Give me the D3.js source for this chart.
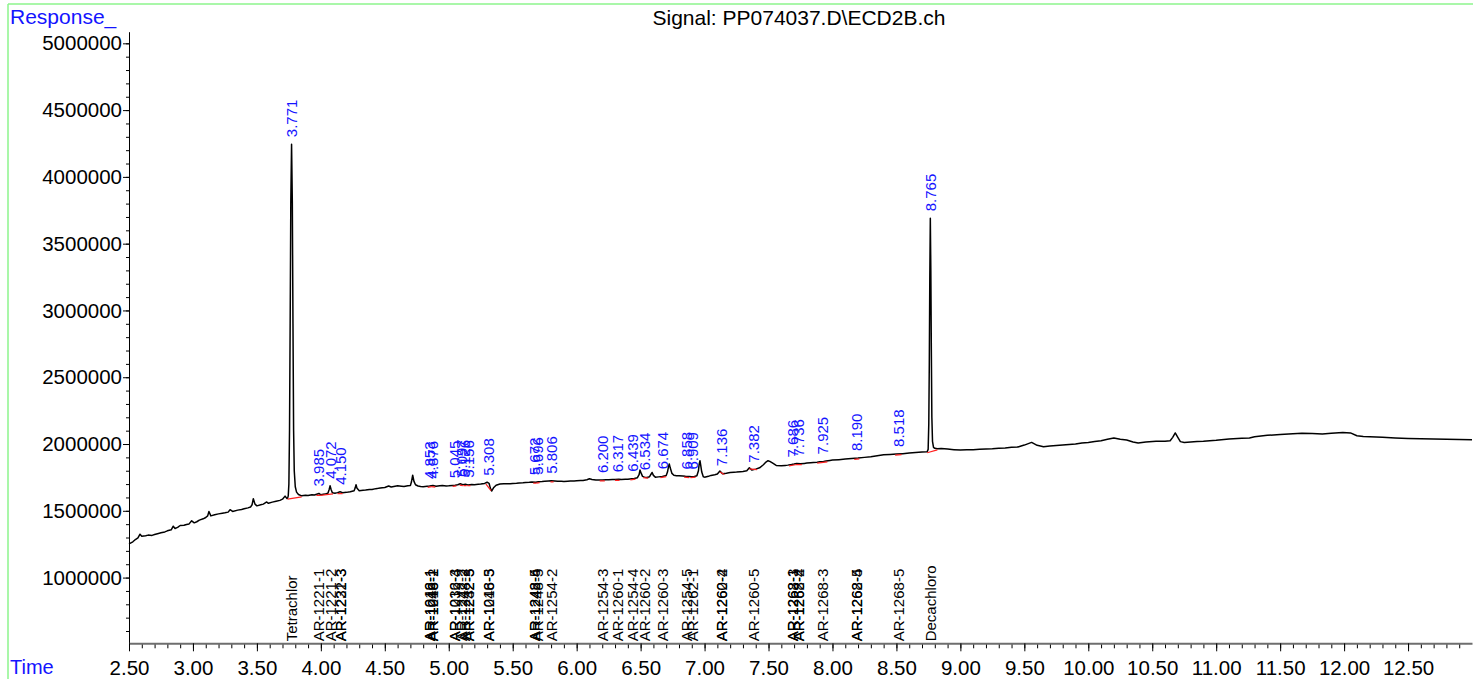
<!DOCTYPE html>
<html>
<head>
<meta charset="utf-8">
<script src="https://cdn.jsdelivr.net/npm/d3@7"></script>
<style>
  body { margin: 0; background: #fff; }
  svg { display: block; font-family: "Liberation Sans", Arial, sans-serif; }
</style>
</head>
<body>
<div id="chart"></div>
<script>
// chromatogram trace, [time (min), response]
var trace = [
  [2.50,1252000],[2.53,1268000],[2.55,1285000],[2.57,1298000],[2.586,1325000],[2.60,1310000],[2.63,1314000],[2.65,1318000],
  [2.68,1316000],[2.70,1322000],[2.73,1330000],[2.75,1335000],[2.78,1342000],[2.80,1350000],[2.83,1358000],[2.846,1385000],
  [2.86,1368000],[2.88,1376000],[2.90,1390000],[2.93,1392000],[2.95,1398000],[2.97,1402000],[2.99,1425000],[3.01,1410000],
  [3.03,1418000],[3.05,1430000],[3.08,1440000],[3.10,1450000],[3.115,1462000],[3.125,1495000],[3.14,1462000],[3.17,1470000],
  [3.20,1477000],[3.23,1482000],[3.25,1485000],[3.275,1490000],[3.29,1508000],[3.31,1495000],[3.35,1505000],[3.38,1510000],
  [3.40,1515000],[3.43,1522000],[3.45,1528000],[3.462,1545000],[3.472,1590000],[3.485,1550000],[3.50,1537000],[3.53,1545000],
  [3.55,1550000],[3.577,1566000],[3.59,1556000],[3.62,1565000],[3.65,1572000],[3.68,1578000],[3.70,1587000],[3.72,1610000],
  [3.735,1592000],[3.740,1595000],[3.745,1612000],[3.750,1700000],[3.755,2100000],[3.760,2900000],[3.765,3800000],
  [3.771,4245000],[3.777,3800000],[3.782,2900000],[3.787,2100000],[3.792,1800000],[3.800,1680000],[3.810,1640000],
  [3.825,1622000],[3.850,1612000],[3.88,1616000],[3.90,1614000],[3.93,1620000],[3.95,1618000],[3.985,1630000],[4.00,1620000],
  [4.03,1625000],[4.055,1632000],[4.065,1660000],[4.072,1687000],[4.08,1660000],[4.09,1635000],[4.11,1632000],[4.13,1636000],
  [4.15,1642000],[4.17,1636000],[4.20,1638000],[4.23,1642000],[4.26,1650000],[4.268,1670000],[4.275,1695000],[4.283,1668000],
  [4.30,1650000],[4.33,1654000],[4.35,1655000],[4.38,1660000],[4.40,1660000],[4.43,1666000],[4.45,1668000],[4.48,1672000],
  [4.50,1675000],[4.53,1686000],[4.55,1678000],[4.58,1684000],[4.60,1687000],[4.63,1684000],[4.65,1682000],[4.68,1688000],
  [4.70,1690000],[4.708,1715000],[4.718,1767000],[4.728,1720000],[4.74,1695000],[4.76,1686000],[4.78,1682000],[4.80,1680000],
  [4.83,1683000],[4.85,1685000],[4.876,1690000],[4.90,1684000],[4.93,1688000],[4.95,1690000],[4.98,1686000],[5.00,1687000],
  [5.03,1690000],[5.05,1692000],[5.07,1695000],[5.09,1702000],[5.11,1696000],[5.13,1698000],[5.15,1694000],[5.18,1697000],
  [5.20,1695000],[5.23,1698000],[5.25,1700000],[5.28,1705000],[5.30,1714000],[5.315,1706000],[5.325,1670000],[5.335,1648000],
  [5.35,1672000],[5.37,1692000],[5.40,1700000],[5.43,1702000],[5.45,1703000],[5.48,1702000],[5.50,1705000],[5.53,1706000],
  [5.55,1708000],[5.58,1710000],[5.60,1712000],[5.63,1713000],[5.65,1715000],[5.68,1714000],[5.70,1718000],[5.73,1720000],
  [5.75,1722000],[5.78,1724000],[5.80,1725000],[5.83,1723000],[5.85,1722000],[5.88,1721000],[5.90,1720000],[5.93,1722000],
  [5.95,1723000],[5.98,1724000],[6.00,1725000],[6.03,1726000],[6.05,1727000],[6.08,1733000],[6.10,1740000],[6.12,1735000],
  [6.15,1730000],[6.18,1731000],[6.20,1730000],[6.23,1732000],[6.25,1733000],[6.28,1734000],[6.30,1735000],[6.33,1736000],
  [6.35,1735000],[6.38,1736000],[6.40,1737000],[6.43,1740000],[6.45,1742000],[6.475,1748000],[6.488,1770000],[6.495,1805000],
  [6.505,1780000],[6.515,1758000],[6.53,1752000],[6.55,1750000],[6.57,1755000],[6.58,1772000],[6.59,1787000],[6.60,1765000],
  [6.615,1752000],[6.64,1754000],[6.67,1757000],[6.70,1764000],[6.71,1790000],[6.718,1830000],[6.724,1850000],[6.732,1820000],
  [6.745,1780000],[6.76,1766000],[6.78,1763000],[6.80,1762000],[6.83,1760000],[6.85,1758000],[6.88,1756000],[6.90,1755000],
  [6.92,1757000],[6.94,1762000],[6.952,1800000],[6.958,1850000],[6.964,1875000],[6.97,1840000],[6.978,1790000],[6.99,1755000],
  [7.00,1752000],[7.03,1758000],[7.05,1765000],[7.08,1770000],[7.10,1775000],[7.12,1798000],[7.14,1778000],[7.17,1782000],
  [7.20,1787000],[7.23,1789000],[7.25,1790000],[7.28,1793000],[7.30,1795000],[7.33,1800000],[7.35,1822000],[7.37,1805000],
  [7.40,1812000],[7.43,1822000],[7.46,1845000],[7.48,1865000],[7.496,1875000],[7.51,1870000],[7.53,1858000],[7.56,1840000],
  [7.60,1837000],[7.63,1840000],[7.65,1842000],[7.68,1846000],[7.70,1850000],[7.72,1855000],[7.75,1852000],[7.78,1855000],
  [7.80,1857000],[7.83,1860000],[7.85,1862000],[7.88,1864000],[7.90,1867000],[7.93,1870000],[7.95,1873000],[7.98,1877000],
  [8.00,1880000],[8.05,1883000],[8.10,1887000],[8.15,1892000],[8.20,1895000],[8.25,1900000],[8.30,1905000],[8.35,1912000],
  [8.40,1920000],[8.45,1922000],[8.50,1925000],[8.55,1928000],[8.60,1932000],[8.65,1937000],[8.70,1940000],[8.740,1942000],
  [8.748,1960000],[8.753,2150000],[8.757,2600000],[8.761,3250000],[8.765,3690000],[8.769,3300000],[8.773,2700000],
  [8.777,2200000],[8.782,2020000],[8.790,1975000],[8.800,1968000],[8.82,1964000],[8.85,1967000],[8.90,1962000],[8.95,1958000],
  [9.00,1955000],[9.05,1957000],[9.10,1958000],[9.15,1960000],[9.20,1962000],[9.25,1964000],[9.30,1968000],[9.35,1970000],
  [9.40,1975000],[9.45,1978000],[9.50,1992000],[9.557,2012000],[9.60,1990000],[9.65,1980000],[9.70,1985000],[9.75,1988000],
  [9.80,1992000],[9.85,1996000],[9.90,2000000],[9.95,2008000],[10.00,2012000],[10.05,2018000],[10.10,2025000],[10.15,2035000],
  [10.20,2045000],[10.25,2035000],[10.30,2030000],[10.35,2015000],[10.39,2007000],[10.45,2015000],[10.53,2020000],
  [10.60,2020000],[10.64,2025000],[10.66,2050000],[10.68,2083000],[10.70,2050000],[10.72,2018000],[10.75,2012000],
  [10.80,2015000],[10.85,2018000],[10.90,2020000],[10.95,2025000],[11.00,2028000],[11.10,2038000],[11.20,2043000],
  [11.26,2045000],[11.30,2055000],[11.40,2065000],[11.50,2072000],[11.60,2077000],[11.67,2080000],[11.75,2078000],
  [11.83,2075000],[11.90,2080000],[11.99,2087000],[12.05,2083000],[12.10,2062000],[12.15,2056000],[12.20,2055000],
  [12.30,2050000],[12.40,2045000],[12.50,2042000],[12.60,2040000],[12.70,2037000],[12.80,2035000],[12.90,2034000],
  [13.00,2032000]
];

// integrated peaks: retention time and integration start / end
var peakRT = [3.771, 3.985, 4.072, 4.150, 4.853, 4.876, 5.045, 5.097, 5.126, 5.156, 5.308, 5.672, 5.696, 5.806,
  6.200, 6.317, 6.439, 6.534, 6.674, 6.858, 6.909, 7.136, 7.382, 7.686, 7.736, 7.925, 8.190, 8.518, 8.765];
var peakWindow = [[3.740,3.850],[3.965,3.995],[3.995,4.095],[4.130,4.170],[4.835,4.865],[4.865,4.895],[5.030,5.060],
  [5.085,5.110],[5.115,5.140],[5.145,5.170],[5.290,5.330],[5.660,5.685],[5.685,5.710],[5.795,5.820],[6.180,6.220],
  [6.300,6.335],[6.420,6.460],[6.520,6.560],[6.655,6.700],[6.840,6.880],[6.890,6.930],[7.120,7.155],[7.350,7.410],
  [7.660,7.710],[7.710,7.760],[7.880,7.960],[8.170,8.210],[8.490,8.540],[8.740,8.820]];

// compound names printed along the time axis
var compoundName = ["Tetrachlor", "AR-1221-1", "AR-1221-2", "AR-1221-3", "AR-1232-3",
  "AR-1016-1", "AR-1242-1", "AR-1248-1", "AR-1016-2",
  "AR-1016-3", "AR-1232-4", "AR-1242-2", "AR-1248-2", "AR-1242-3", "AR-1232-5",
  "AR-1016-5", "AR-1248-3", "AR-1242-5", "AR-1248-4", "AR-1248-5", "AR-1254-2",
  "AR-1254-3", "AR-1260-1", "AR-1254-4", "AR-1260-2", "AR-1260-3", "AR-1254-5", "AR-1262-1",
  "AR-1260-4", "AR-1262-2", "AR-1260-5", "AR-1268-1", "AR-1262-3", "AR-1268-2", "AR-1262-4",
  "AR-1268-3", "AR-1262-5", "AR-1268-4", "AR-1268-5", "Decachloro"];
var compoundRT = [3.771, 3.985, 4.072, 4.150, 4.150,
  4.853, 4.853, 4.876, 4.876,
  5.045, 5.045, 5.097, 5.126, 5.156, 5.156,
  5.308, 5.308, 5.672, 5.672, 5.696, 5.806,
  6.200, 6.317, 6.439, 6.534, 6.674, 6.858, 6.909,
  7.136, 7.136, 7.382, 7.686, 7.686, 7.736, 7.736,
  7.925, 8.190, 8.190, 8.518, 8.765];

var xMajor = d3.range(2.5, 12.51, 0.5);
var xMinor = d3.range(2.5, 12.95, 0.1);
var yMajor = d3.range(1000000, 5000001, 500000);
var yMinor = d3.range(600000, 5000001, 100000);

var signalTitle = "Signal: PP074037.D\\ECD2B.ch";

var W = 1473, H = 679;
var plot = { left: 129, right: 1472, top: 31.7, bottom: 643.3 };

var svg = d3.select("#chart")
    .append("svg")
    .attr("width", W)
    .attr("height", H);

// frame
svg.append("line")
    .attr("x1", 8).attr("x2", W).attr("y1", 4).attr("y2", 4)
    .attr("stroke", "#8cf58c").attr("stroke-width", 1.5);
svg.append("line")
    .attr("x1", 8).attr("x2", 8).attr("y1", 4).attr("y2", H)
    .attr("stroke", "#8cf58c").attr("stroke-width", 1.5);

var x = d3.scaleLinear().domain([2.5, 13.0]).range([plot.left, plot.right]);
var y = d3.scaleLinear().domain([508000, 5087000]).range([plot.bottom, plot.top]);

// y axis
svg.append("g")
    .attr("transform", "translate(" + plot.left + ",0)")
    .call(d3.axisLeft(y).tickValues(yMinor).tickSize(3).tickFormat("").tickSizeOuter(0))
    .call(function(g) { g.select(".domain").remove(); });
var yAxis = svg.append("g")
    .attr("transform", "translate(" + plot.left + ",0)")
    .call(d3.axisLeft(y).tickValues(yMajor).tickSize(6).tickPadding(1).tickSizeOuter(0).tickFormat(d3.format("d")));
yAxis.selectAll("text")
    .attr("font-size", 20.5)
    .attr("font-family", "Liberation Sans, Arial, sans-serif")
    .attr("fill", "#000");
yAxis.select(".domain").attr("stroke", "#000");

// x axis
svg.append("g")
    .attr("transform", "translate(0," + plot.bottom + ")")
    .call(d3.axisBottom(x).tickValues(xMinor).tickSize(5).tickFormat("").tickSizeOuter(0))
    .call(function(g) { g.select(".domain").remove(); });
var xAxis = svg.append("g")
    .attr("transform", "translate(0," + plot.bottom + ")")
    .call(d3.axisBottom(x).tickValues(xMajor).tickSize(8).tickSizeOuter(0).tickFormat(d3.format(".2f")));
xAxis.selectAll("text")
    .attr("y", 32)
    .attr("dy", null)
    .attr("font-size", 20.5)
    .attr("font-family", "Liberation Sans, Arial, sans-serif")
    .attr("fill", "#000");
xAxis.select(".domain").attr("stroke", "#6e6e6e").attr("stroke-width", 2);

// texts
svg.append("text")
    .attr("x", 10).attr("y", 24)
    .attr("font-size", 21).attr("fill", "#1414ff")
    .text("Response_");
svg.append("text")
    .attr("x", 10).attr("y", 674)
    .attr("font-size", 20).attr("fill", "#1414ff")
    .text("Time");
svg.append("text")
    .attr("x", 799).attr("y", 25)
    .attr("text-anchor", "middle")
    .attr("font-size", 21)
    .attr("fill", "#000")
    .text(signalTitle);

// trace
var bisect = d3.bisector(function(d) { return d[0]; }).left;
function valueAt(t) {
  var i = Math.max(1, Math.min(trace.length - 1, bisect(trace, t)));
  var a = trace[i - 1], b = trace[i];
  return a[1] + (b[1] - a[1]) * (t - a[0]) / (b[0] - a[0]);
}
function localMax(t) {
  var v = valueAt(t);
  trace.forEach(function(d) { if (Math.abs(d[0] - t) <= 0.008 && d[1] > v) v = d[1]; });
  return v;
}

var line = d3.line()
    .x(function(d) { return x(d[0]); })
    .y(function(d) { return y(d[1]); });

svg.append("path")
    .datum(trace)
    .attr("fill", "none")
    .attr("stroke", "#000")
    .attr("stroke-width", 1.5)
    .attr("stroke-linejoin", "round")
    .attr("d", line);

// integration baselines
svg.append("g")
    .selectAll("line")
    .data(peakWindow)
    .enter()
    .append("line")
    .attr("x1", function(d) { return x(d[0]); })
    .attr("x2", function(d) { return x(d[1]); })
    .attr("y1", function(d) { return y(valueAt(d[0])) + 1; })
    .attr("y2", function(d) { return y(valueAt(d[1])) + 1; })
    .attr("stroke", "#ff2020")
    .attr("stroke-width", 1.2);

// peak retention time labels
svg.append("g")
    .selectAll("text")
    .data(peakRT)
    .enter()
    .append("text")
    .attr("transform", function(d) {
      return "translate(" + x(d) + "," + (y(localMax(d)) - 7) + ") rotate(-90)";
    })
    .attr("dominant-baseline", "central")
    .attr("font-size", 15)
    .attr("fill", "#1414ff")
    .text(function(d) { return d3.format(".3f")(d); });

// compound labels
svg.append("g")
    .selectAll("text")
    .data(compoundName)
    .enter()
    .append("text")
    .attr("transform", function(d, i) {
      return "translate(" + x(compoundRT[i]) + "," + (plot.bottom - 2) + ") rotate(-90)";
    })
    .attr("dominant-baseline", "central")
    .attr("font-size", 15)
    .attr("fill", "#000")
    .text(function(d) { return d; });
</script>
</body>
</html>
